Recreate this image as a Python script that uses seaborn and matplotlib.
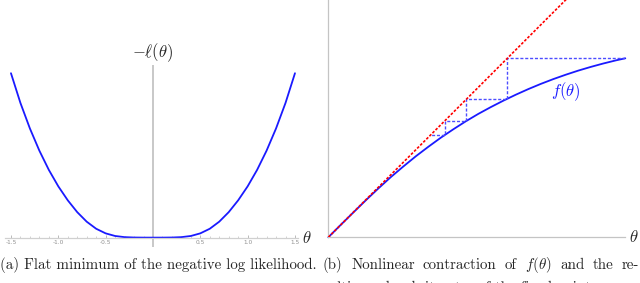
import numpy as np
import pandas as pd
import matplotlib
matplotlib.use("Agg")
import matplotlib.pyplot as plt
import seaborn as sns

# (a) negative log likelihood
theta_a = [-1.5, -1.4, -1.3, -1.2, -1.1, -1.0, -0.9, -0.8, -0.7, -0.6, -0.5, -0.4, -0.3, -0.2, -0.1,
           0.0, 0.1, 0.2, 0.3, 0.4, 0.5, 0.6, 0.7, 0.8, 0.9, 1.0, 1.1, 1.2, 1.3, 1.4, 1.5]
nll = [1.0, 0.819, 0.664, 0.529, 0.412, 0.312, 0.227, 0.155, 0.097, 0.054, 0.026, 0.010, 0.003, 0.0007, 0.0001,
       0.0, 0.0001, 0.0007, 0.003, 0.010, 0.026, 0.054, 0.097, 0.155, 0.227, 0.312, 0.412, 0.529, 0.664, 0.819, 1.0]
ticks_a = [-1.5, -1.0, -0.5, 0.5, 1.0, 1.5]

# (b) contraction f(theta) and cobweb iterates
theta_b = [0.0, 0.125, 0.25, 0.375, 0.5, 0.625, 0.75, 0.875, 1.0, 1.125, 1.25, 1.375, 1.5,
           1.625, 1.75, 1.875, 2.0, 2.125, 2.25, 2.375, 2.5, 2.625, 2.75, 2.875, 2.97]
f_b = [0.0, 0.125, 0.248, 0.370, 0.488, 0.602, 0.708, 0.810, 0.905, 0.996, 1.080, 1.160, 1.234,
       1.302, 1.366, 1.426, 1.482, 1.534, 1.582, 1.626, 1.667, 1.704, 1.738, 1.769, 1.79]
iterates = [2.97, 1.79, 1.38, 1.165, 1.025]
diag = [0.0, 2.4]

caption_a = "(a) Flat minimum of the negative log likelihood."
caption_b = ["(b)", "Nonlinear", "contraction", "of", r"$f(\theta)$", "and", "the", "re-"]
caption_b2 = "sulting cobweb iterates of the fixed point."

sns.set_theme(style="white")
plt.rcParams["font.family"] = ["cmr10", "DejaVu Serif"]
plt.rcParams["mathtext.fontset"] = "cm"
plt.rcParams["axes.unicode_minus"] = False

W, H = 640, 283
fig = plt.figure(figsize=(W / 100, H / 100), dpi=100)

def px_axes(x0, y0, x1, y1):
    # rectangle given in image pixels (top-left origin)
    return fig.add_axes([x0 / W, 1 - y1 / H, (x1 - x0) / W, (y1 - y0) / H])

axis_grey = "#c4c4c4"
blue = "#1a1aff"

# ---- panel (a)
ax = px_axes(5, 65, 298, 247)
df_a = pd.DataFrame({"theta": theta_a, "nll": nll})
sns.lineplot(data=df_a, x="theta", y="nll", ax=ax, color=blue, linewidth=1.3, sort=False)
ax.set_xlim(-1.563, 1.532)
ax.set_ylim(-0.057, 1.05)
for s in ["top", "right", "left"]:
    ax.spines[s].set_visible(False)
ax.spines["bottom"].set_position(("data", 0))
ax.spines["bottom"].set_color("#d0d0d0")
ax.spines["bottom"].set_linewidth(0.9)
ax.axvline(0, color=axis_grey, linewidth=1.3, zorder=0)
ax.set_xticks(ticks_a)
ax.set_xticklabels([f"{t:.1f}" for t in ticks_a])
ax.set_xticks(np.arange(-1.5, 1.51, 0.1), minor=True)
ax.tick_params(axis="x", which="major", direction="in", length=2.5, width=0.6, color="#b0b0b0",
               labelsize=4.2, labelcolor="#909090", pad=2, bottom=True)
ax.tick_params(axis="x", which="minor", direction="in", length=1.3, width=0.5, color="#c0c0c0", bottom=True)
for lab in ax.get_xticklabels():
    lab.set_family("DejaVu Sans")
ax.set_yticks([])
ax.set_xlabel("")
ax.set_ylabel("")
fig.text(153 / W, 1 - 53 / H, r"$-\ell(\theta)$", ha="center", va="center", fontsize=12)
fig.text(307 / W, 1 - 238 / H, r"$\theta$", ha="center", va="center", fontsize=12)

# ---- panel (b)
bx = px_axes(328.3, 0, 625, 237.3)
df_b = pd.DataFrame({"theta": theta_b, "f": f_b})
sns.lineplot(x=diag, y=diag, ax=bx, color="red", linewidth=1.2, linestyle=(0, (1.6, 1.0)), zorder=3)
sns.lineplot(data=df_b, x="theta", y="f", ax=bx, color=blue, linewidth=1.3, sort=False)
bx.lines[-1].set_clip_on(False)

# cobweb path: (t0, t1) -> (t1, t1) -> (t1, t2) -> ...
cx, cy = [iterates[0]], [iterates[1]]
for k in range(1, len(iterates)):
    cx.append(iterates[k]); cy.append(iterates[k])
    if k + 1 < len(iterates):
        cx.append(iterates[k]); cy.append(iterates[k + 1])
bx.plot(cx, cy, color="#4d4dff", linewidth=1.0, linestyle=(0, (2.2, 1.3)), zorder=2)

bx.set_xlim(0, 2.967)
bx.set_ylim(0, 2.373)
for s in ["top", "right"]:
    bx.spines[s].set_visible(False)
for s in ["left", "bottom"]:
    bx.spines[s].set_color(axis_grey)
    bx.spines[s].set_linewidth(0.9)
bx.set_xticks([])
bx.set_yticks([])
bx.set_xlabel("")
bx.set_ylabel("")
bx.text(2.37, 1.46, r"$f(\theta)$", color=blue, ha="center", va="center", fontsize=12)
fig.text(634 / W, 1 - 237 / H, r"$\theta$", ha="center", va="center", fontsize=12)

# ---- captions
fig.text(0 / W, 1 - 269 / H, caption_a, ha="left", va="baseline", fontsize=10.8)

# justified first line of caption (b), spread between x=323 and x=639
renderer = fig.canvas.get_renderer()
words = [fig.text(0, 1 - 269 / H, w, ha="left", va="baseline", fontsize=10.8) for w in caption_b]
widths = [t.get_window_extent(renderer).width for t in words]
gap = (639 - 323 - sum(widths)) / (len(words) - 1)
x = 323
for t, w in zip(words, widths):
    t.set_x(x / W)
    x += w + gap

fig.text(323 / W, 1 - 292 / H, caption_b2, ha="left", va="baseline", fontsize=10.8)

fig.savefig("out.png", dpi=100)
